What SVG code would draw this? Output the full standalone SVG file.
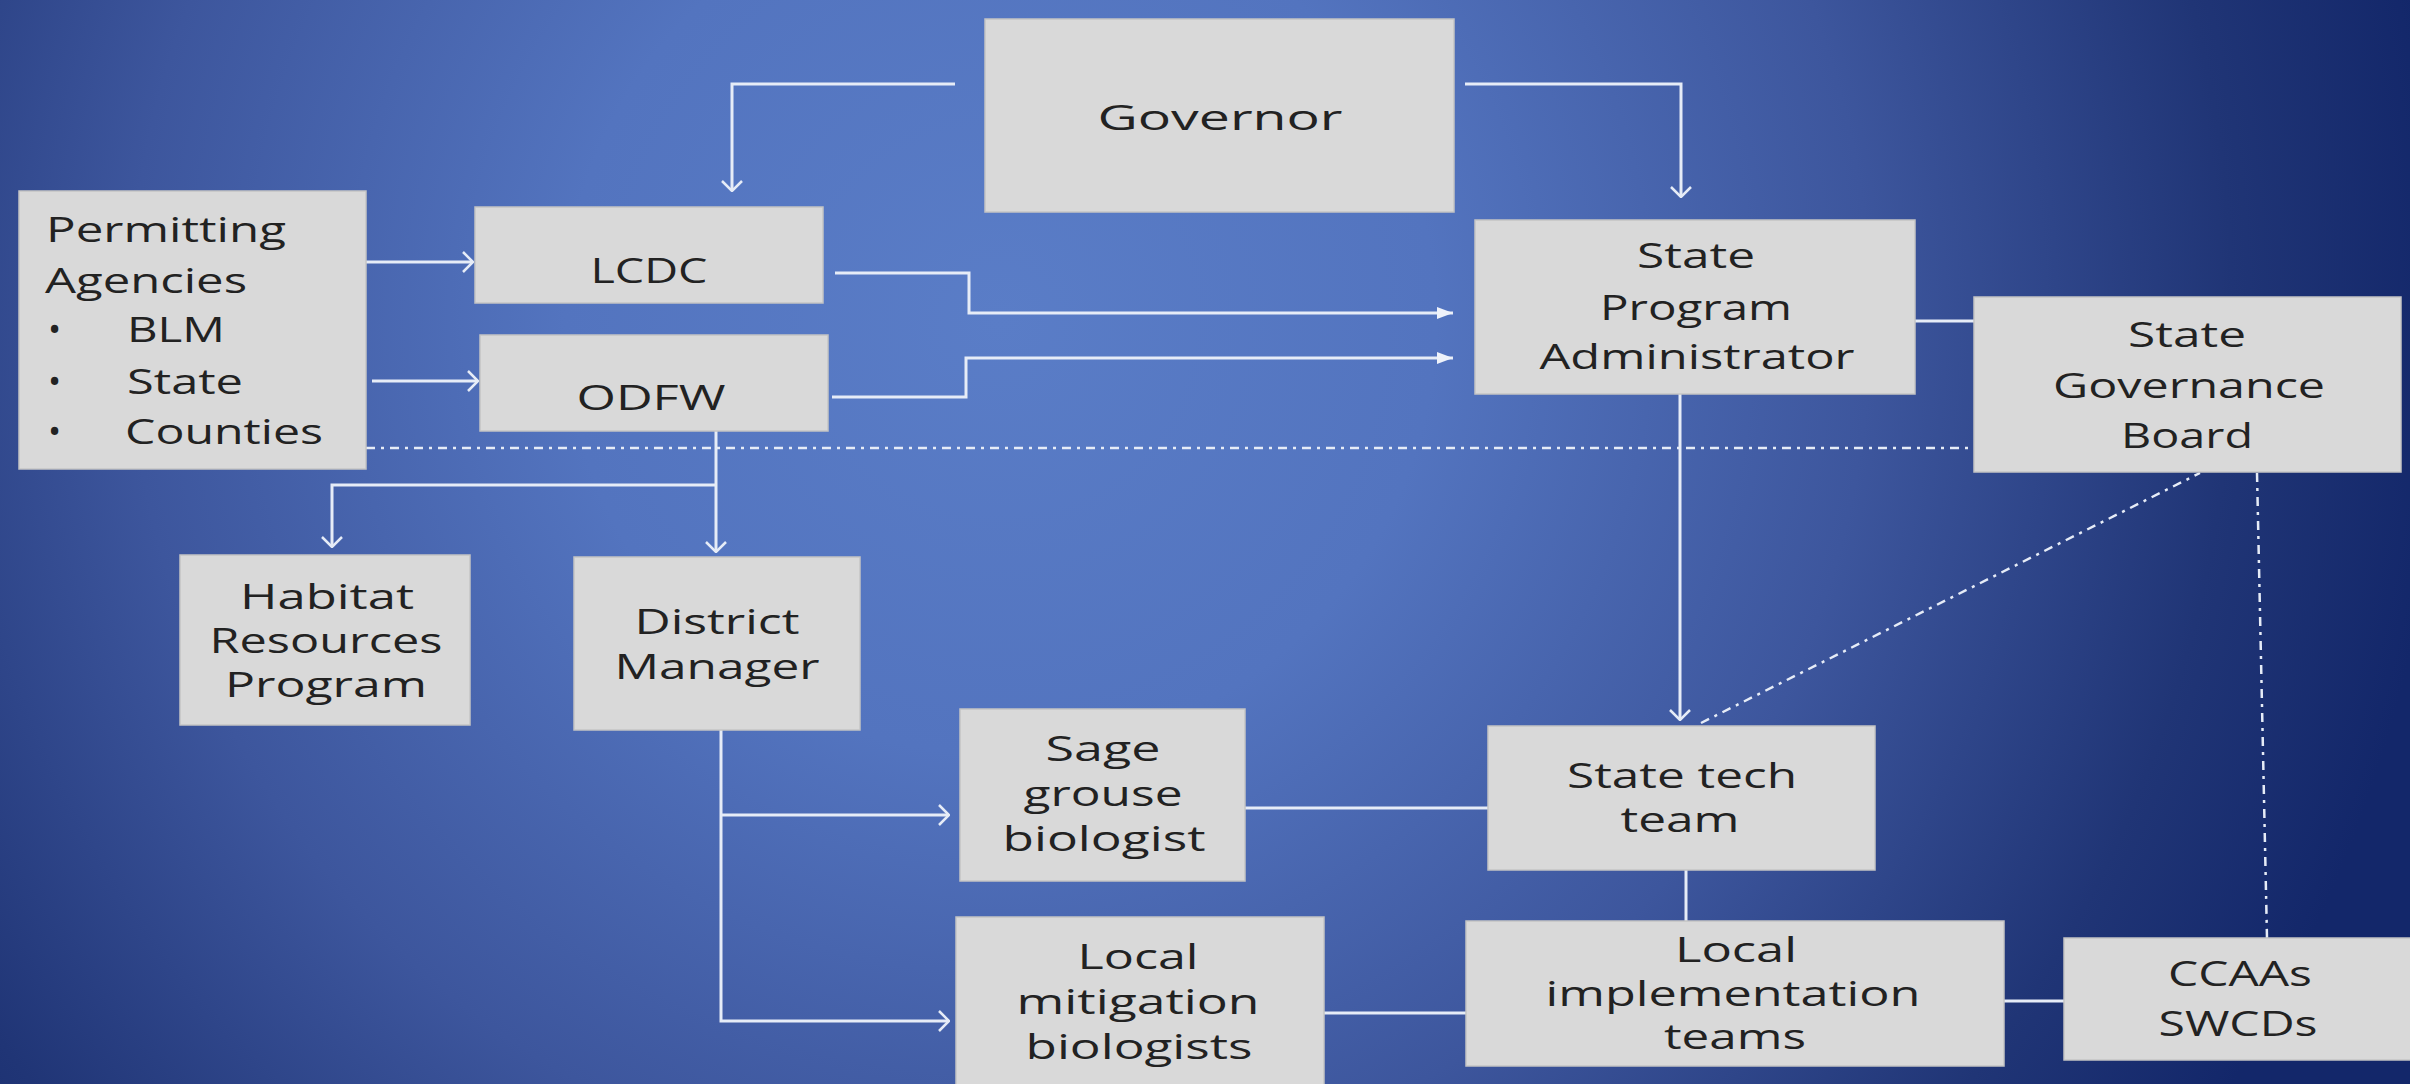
<svg xmlns="http://www.w3.org/2000/svg" width="2410" height="1084" viewBox="0 0 2410 1084">
<defs>
<radialGradient id="bg" gradientUnits="userSpaceOnUse" cx="1000" cy="320" r="1450">
<stop offset="0" stop-color="#5a7dc7"/>
<stop offset="0.3" stop-color="#5374bf"/>
<stop offset="0.6" stop-color="#3d569d"/>
<stop offset="0.85" stop-color="#203576"/>
<stop offset="1" stop-color="#13276a"/>
</radialGradient>
<marker id="open" viewBox="0 0 12 22" refX="11" refY="11" markerWidth="12" markerHeight="22" orient="auto" markerUnits="userSpaceOnUse">
<path d="M1,1 L11,11 L1,21" fill="none" stroke="#e6ecf7" stroke-width="2.5"/>
</marker>
<marker id="solid" viewBox="0 0 16 12" refX="16" refY="6" markerWidth="16" markerHeight="12" orient="auto" markerUnits="userSpaceOnUse">
<path d="M0,0 L16,6 L0,12 Z" fill="#eef2fa"/>
</marker>
</defs>
<style>
.box{fill:#d9d9d9;stroke:#c4c4c4;stroke-width:1.5}
.t{font-family:"Open Sans","Liberation Sans",sans-serif;font-size:35px;fill:#222222;text-anchor:middle}
.l{text-anchor:start}
.c{fill:none;stroke:#e6ecf7;stroke-width:3}
.dd{fill:none;stroke:#e6ecf7;stroke-width:2.5;stroke-dasharray:9 6 3 6}
</style>
<rect x="0" y="0" width="2410" height="1084" fill="url(#bg)"/>

<g id="connectors">
<path class="c" d="M955,84 H732 V191" marker-end="url(#open)"/>
<path class="c" d="M1465,84 H1681 V197" marker-end="url(#open)"/>
<path class="c" d="M366,262 H473" marker-end="url(#open)"/>
<path class="c" d="M372,381 H478" marker-end="url(#open)"/>
<path class="c" d="M835,273 H969 V313 H1453" marker-end="url(#solid)"/>
<path class="c" d="M832,397 H966 V358 H1453" marker-end="url(#solid)"/>
<path class="c" d="M1915,321 H1974"/>
<path class="dd" d="M366,448 H1974"/>
<path class="c" d="M716,431 V552" stroke-width="4.5" marker-end="url(#open)"/>
<path class="c" d="M716,485 H332 V547" marker-end="url(#open)"/>
<path class="c" d="M721,730 V1021 H949" marker-end="url(#open)"/>
<path class="c" d="M721,815 H949" marker-end="url(#open)"/>
<path class="c" d="M1245,808 H1488"/>
<path class="c" d="M1680,394 V720" marker-end="url(#open)"/>
<path class="dd" d="M1701,723 L2200,473"/>
<path class="dd" d="M2257,473 L2267,938"/>
<path class="c" d="M1686,870 V921"/>
<path class="c" d="M1324,1013 H1466"/>
<path class="c" d="M2004,1001 H2064"/>
</g>

<g id="governor">
<rect class="box" x="985" y="19" width="469" height="193"/>
<text class="t" x="1220" y="130" font-size="42" textLength="245" lengthAdjust="spacingAndGlyphs">Governor</text>
</g>

<g id="permitting">
<rect class="box" x="19" y="191" width="347" height="278"/>
<text class="t l" x="46" y="242" textLength="240" lengthAdjust="spacingAndGlyphs">Permitting</text>
<text class="t l" x="45" y="293" textLength="202" lengthAdjust="spacingAndGlyphs">Agencies</text>
<text class="t l" x="48" y="342">•</text>
<text class="t l" x="48" y="394">•</text>
<text class="t l" x="48" y="444">•</text>
<text class="t l" x="127" y="342" textLength="98" lengthAdjust="spacingAndGlyphs">BLM</text>
<text class="t l" x="127" y="394" textLength="116" lengthAdjust="spacingAndGlyphs">State</text>
<text class="t l" x="125" y="444" textLength="198" lengthAdjust="spacingAndGlyphs">Counties</text>
</g>

<g id="lcdc">
<rect class="box" x="475" y="207" width="348" height="96"/>
<text class="t" x="649" y="283" textLength="117" lengthAdjust="spacingAndGlyphs">LCDC</text>
</g>

<g id="odfw">
<rect class="box" x="480" y="335" width="348" height="96"/>
<text class="t" x="651" y="410" textLength="149" lengthAdjust="spacingAndGlyphs">ODFW</text>
</g>

<g id="spa">
<rect class="box" x="1475" y="220" width="440" height="174"/>
<text class="t" x="1696" y="268" textLength="118" lengthAdjust="spacingAndGlyphs">State</text>
<text class="t" x="1696" y="320" textLength="192" lengthAdjust="spacingAndGlyphs">Program</text>
<text class="t" x="1697" y="369" textLength="315" lengthAdjust="spacingAndGlyphs">Administrator</text>
</g>

<g id="governance">
<rect class="box" x="1974" y="297" width="427" height="175"/>
<text class="t" x="2187" y="347" textLength="118" lengthAdjust="spacingAndGlyphs">State</text>
<text class="t" x="2189" y="398" textLength="272" lengthAdjust="spacingAndGlyphs">Governance</text>
<text class="t" x="2187" y="448" textLength="132" lengthAdjust="spacingAndGlyphs">Board</text>
</g>

<g id="habitat">
<rect class="box" x="180" y="555" width="290" height="170"/>
<text class="t" x="327" y="609" textLength="174" lengthAdjust="spacingAndGlyphs">Habitat</text>
<text class="t" x="326" y="653" textLength="233" lengthAdjust="spacingAndGlyphs">Resources</text>
<text class="t" x="326" y="697" textLength="202" lengthAdjust="spacingAndGlyphs">Program</text>
</g>

<g id="district">
<rect class="box" x="574" y="557" width="286" height="173"/>
<text class="t" x="717" y="634" textLength="165" lengthAdjust="spacingAndGlyphs">District</text>
<text class="t" x="717" y="679" textLength="205" lengthAdjust="spacingAndGlyphs">Manager</text>
</g>

<g id="sage">
<rect class="box" x="960" y="709" width="285" height="172"/>
<text class="t" x="1103" y="761" textLength="115" lengthAdjust="spacingAndGlyphs">Sage</text>
<text class="t" x="1103" y="806" textLength="159" lengthAdjust="spacingAndGlyphs">grouse</text>
<text class="t" x="1104" y="851" textLength="203" lengthAdjust="spacingAndGlyphs">biologist</text>
</g>

<g id="statetech">
<rect class="box" x="1488" y="726" width="387" height="144"/>
<text class="t" x="1682" y="788" font-size="34" textLength="230" lengthAdjust="spacingAndGlyphs">State tech</text>
<text class="t" x="1680" y="832" font-size="34" textLength="119" lengthAdjust="spacingAndGlyphs">team</text>
</g>

<g id="mitigation">
<rect class="box" x="956" y="917" width="368" height="180"/>
<text class="t" x="1138" y="969" textLength="121" lengthAdjust="spacingAndGlyphs">Local</text>
<text class="t" x="1138" y="1014" textLength="243" lengthAdjust="spacingAndGlyphs">mitigation</text>
<text class="t" x="1139" y="1059" textLength="227" lengthAdjust="spacingAndGlyphs">biologists</text>
</g>

<g id="implementation">
<rect class="box" x="1466" y="921" width="538" height="145"/>
<text class="t" x="1736" y="962" textLength="122" lengthAdjust="spacingAndGlyphs">Local</text>
<text class="t" x="1733" y="1006" textLength="375" lengthAdjust="spacingAndGlyphs">implementation</text>
<text class="t" x="1735" y="1049" textLength="142" lengthAdjust="spacingAndGlyphs">teams</text>
</g>

<g id="ccaas">
<rect class="box" x="2064" y="938" width="350" height="122"/>
<text class="t" x="2240" y="986" textLength="144" lengthAdjust="spacingAndGlyphs">CCAAs</text>
<text class="t" x="2238" y="1036" textLength="159" lengthAdjust="spacingAndGlyphs">SWCDs</text>
</g>
</svg>
